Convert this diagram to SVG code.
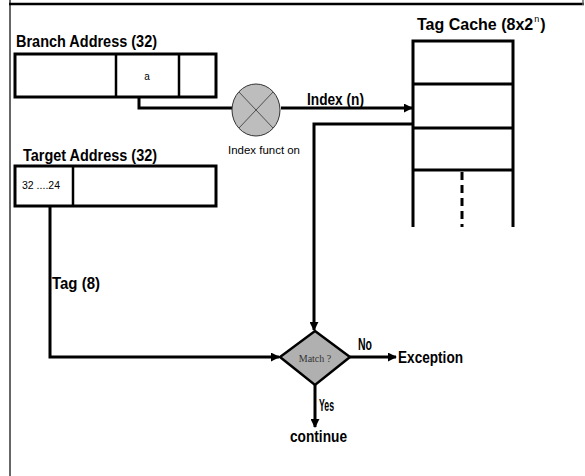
<svg xmlns="http://www.w3.org/2000/svg" width="585" height="476" viewBox="0 0 585 476">
  <style>
    .lbl { font-family: "Liberation Sans", Arial, sans-serif; font-weight: bold; font-size: 16px; fill: #000; }
    .small { font-family: "Liberation Sans", Arial, sans-serif; font-size: 10px; fill: #000; }
    .box { fill: #fff; stroke: #000; stroke-width: 3; }
    .wire { fill: none; stroke: #000; stroke-width: 3; }
  </style>
  <defs>
    <marker id="arrow" viewBox="0 0 10 10" refX="9" refY="5" markerWidth="3" markerHeight="3" orient="auto">
      <path d="M0,0 L10,5 L0,10 z" fill="#000"/>
    </marker>
  </defs>
  <rect width="585" height="476" fill="#fff"/>

  <!-- frame -->
  <g id="frame">
    <line x1="10" y1="0" x2="10" y2="476" stroke="#666" stroke-width="2"/>
    <line x1="9" y1="4" x2="584" y2="4" stroke="#000" stroke-width="2.5"/>
    <line x1="583" y1="0" x2="583" y2="5" stroke="#666" stroke-width="1.5"/>
  </g>

  <!-- connectors -->
  <g id="connectors">
    <polyline class="wire" points="139,97 139,108 232,108"/>
    <line class="wire" x1="281" y1="108" x2="412" y2="108" marker-end="url(#arrow)"/>
    <polyline class="wire" points="413,124 314,124 314,330" marker-end="url(#arrow)"/>
    <polyline class="wire" points="50,206 50,357 279,357" marker-end="url(#arrow)"/>
    <line class="wire" x1="350" y1="357" x2="396" y2="357" marker-end="url(#arrow)"/>
    <line class="wire" x1="315" y1="385" x2="315" y2="427" marker-end="url(#arrow)"/>
  </g>

  <!-- branch address register -->
  <g id="branch-address">
    <text class="lbl" x="16" y="47" textLength="141" lengthAdjust="spacingAndGlyphs">Branch Address (32)</text>
    <rect class="box" x="15" y="54" width="201" height="43"/>
    <line x1="116" y1="54" x2="116" y2="97" stroke="#000" stroke-width="2.5"/>
    <line x1="179" y1="54" x2="179" y2="97" stroke="#000" stroke-width="2.5"/>
    <text class="small" x="147" y="80" font-size="7" text-anchor="middle">a</text>
  </g>

  <!-- index function -->
  <g id="index-function">
    <ellipse cx="256" cy="110" rx="24" ry="26" fill="#bdbdbd" stroke="#333" stroke-width="1"/>
    <line x1="239" y1="92" x2="273" y2="128" stroke="#333" stroke-width="0.8"/>
    <line x1="273" y1="92" x2="239" y2="128" stroke="#333" stroke-width="0.8"/>
    <text class="small" x="228" y="154" textLength="72" lengthAdjust="spacingAndGlyphs">Index funct on</text>
  </g>

  <text class="lbl" x="307" y="105" textLength="57" lengthAdjust="spacingAndGlyphs">Index (n)</text>

  <!-- tag cache -->
  <g id="tag-cache">
    <text class="lbl" x="417" y="30" font-size="14.5">Tag Cache (8x2<tspan font-size="9" font-weight="normal" dx="1" dy="-8">n</tspan><tspan dx="1" dy="8">)</tspan></text>
    <polyline class="wire" points="413,227 413,41 513,41 513,227"/>
    <line class="wire" x1="413" y1="84" x2="513" y2="84"/>
    <line class="wire" x1="413" y1="128" x2="513" y2="128"/>
    <line class="wire" x1="413" y1="170" x2="513" y2="170"/>
    <line x1="462" y1="172" x2="462" y2="227" stroke="#000" stroke-width="3" stroke-dasharray="8,5"/>
  </g>

  <!-- target address register -->
  <g id="target-address">
    <text class="lbl" x="23" y="161" textLength="134" lengthAdjust="spacingAndGlyphs">Target Address (32)</text>
    <rect class="box" x="15" y="166" width="201" height="40"/>
    <line x1="73" y1="166" x2="73" y2="206" stroke="#000" stroke-width="2.5"/>
    <text class="small" x="22" y="189" font-size="9" textLength="38" lengthAdjust="spacingAndGlyphs">32 ....24</text>
  </g>

  <text class="lbl" x="52" y="289" textLength="48" lengthAdjust="spacingAndGlyphs">Tag (8)</text>

  <!-- match decision -->
  <g id="match">
    <polygon points="315,331 350,357 315,385 280,357" fill="#b0b0b0" stroke="#000" stroke-width="2.5"/>
    <text x="315" y="362" text-anchor="middle" font-family="Liberation Serif, serif" font-size="10" fill="#333">Match ?</text>
  </g>

  <text class="lbl" x="358" y="350" font-size="13" textLength="14" lengthAdjust="spacingAndGlyphs">No</text>
  <g id="exception">
    <text class="lbl" x="398" y="363" textLength="65" lengthAdjust="spacingAndGlyphs">Exception</text>
  </g>
  <text class="lbl" x="319" y="411" font-size="12" font-weight="normal" textLength="15" lengthAdjust="spacingAndGlyphs">Yes</text>
  <g id="continue">
    <text class="lbl" x="290" y="442" textLength="57" lengthAdjust="spacingAndGlyphs">continue</text>
  </g>
</svg>
